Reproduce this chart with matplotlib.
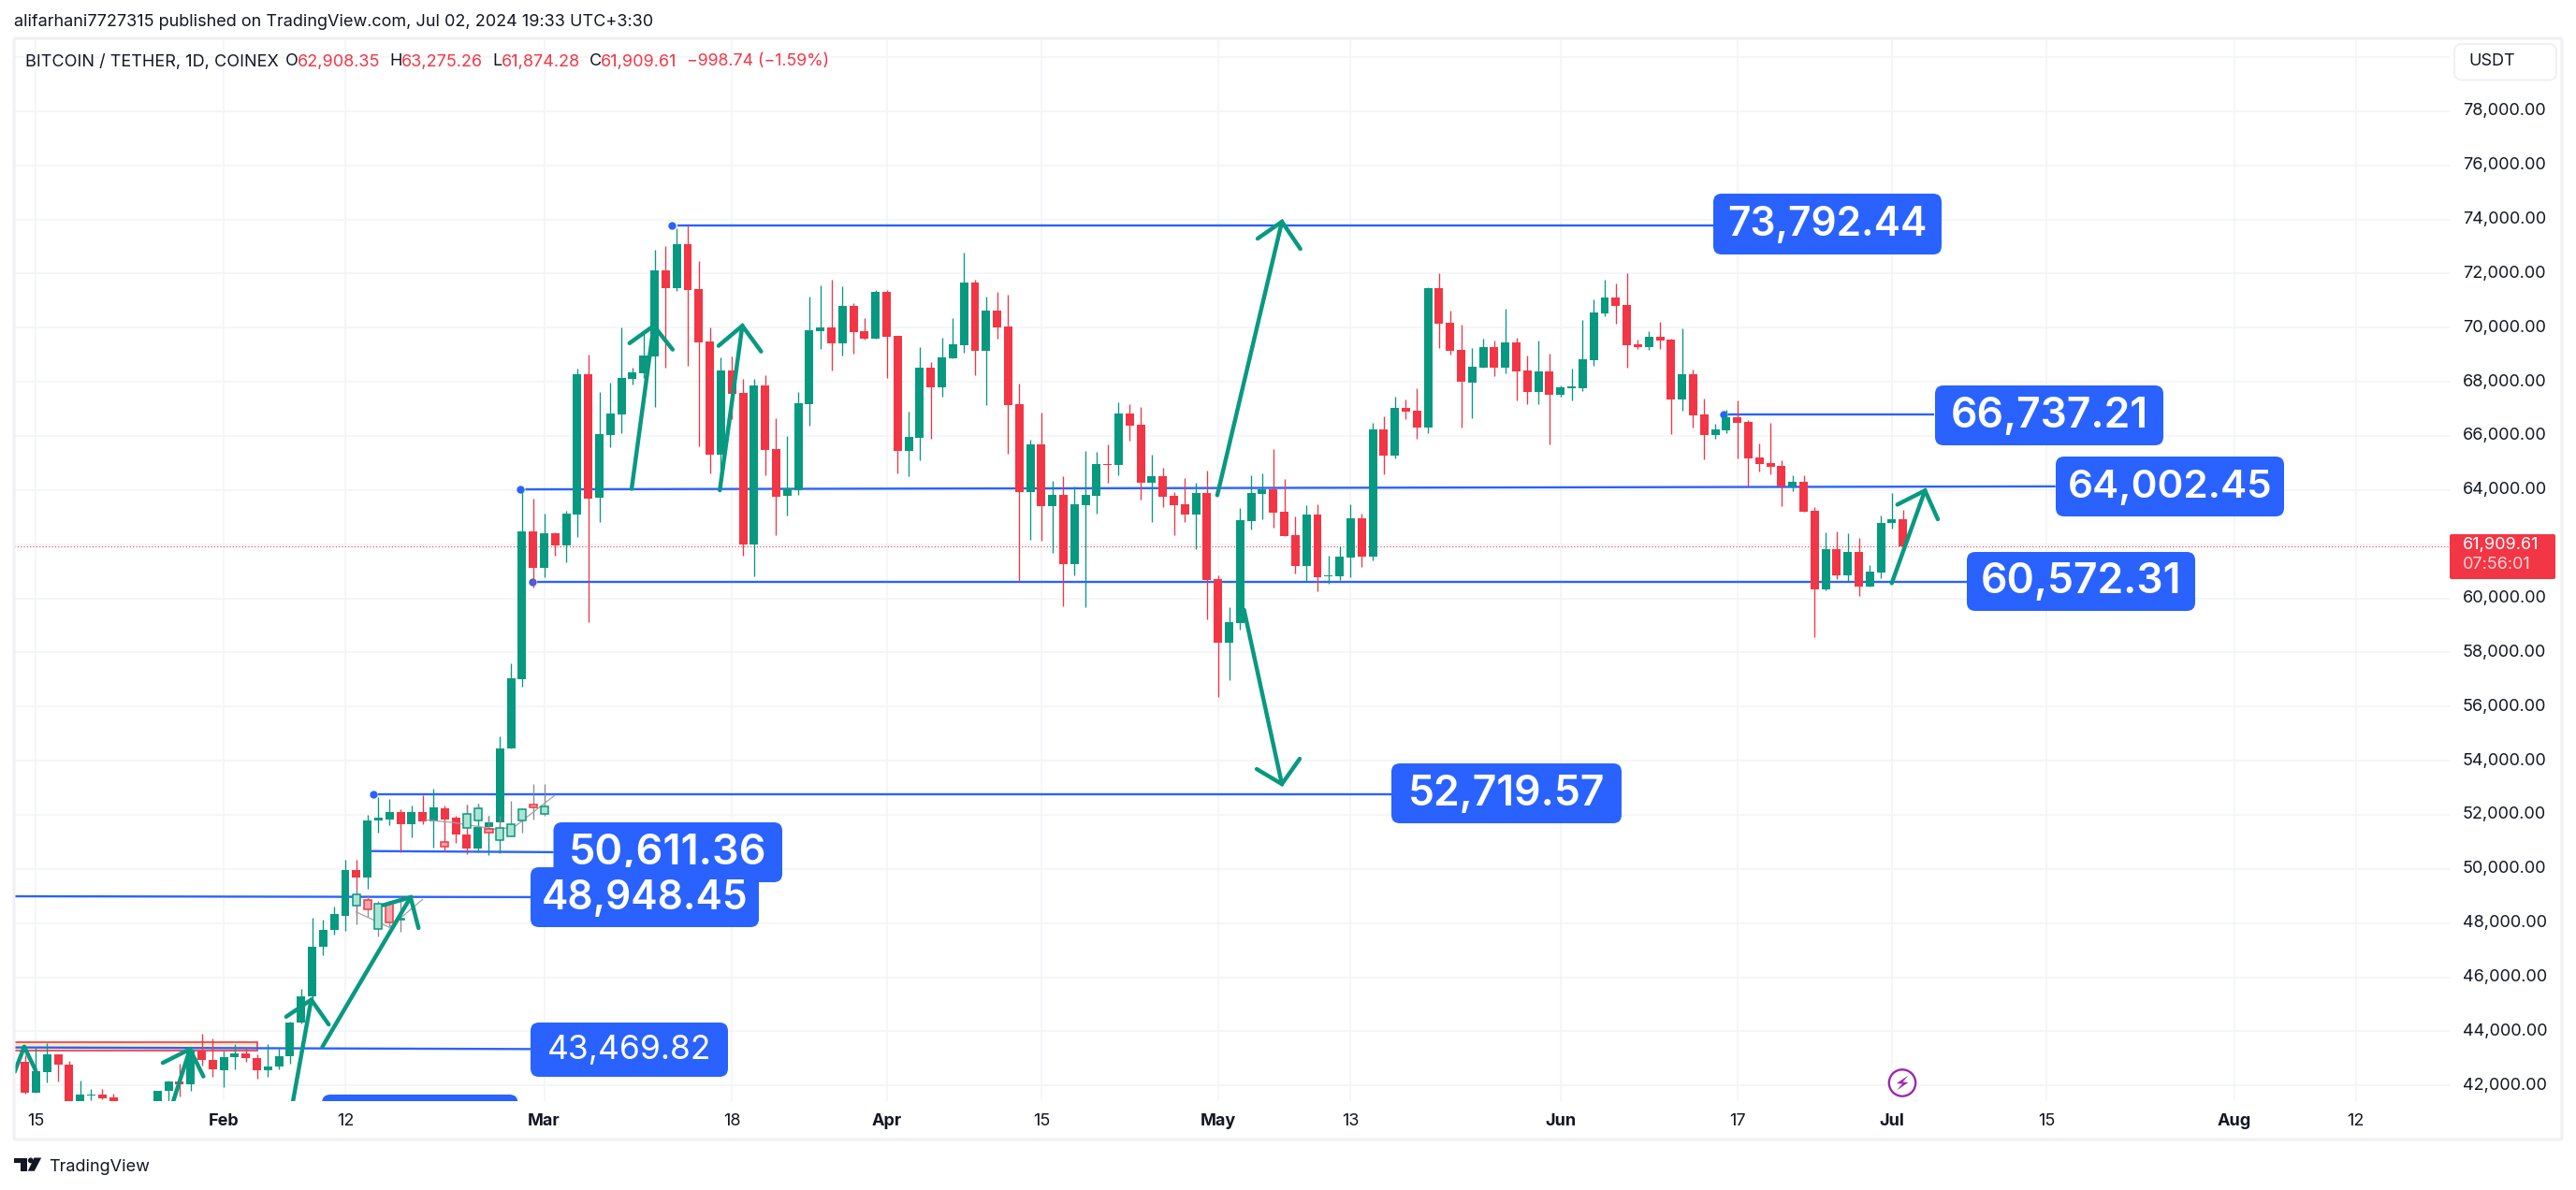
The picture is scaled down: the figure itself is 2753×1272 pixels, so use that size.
import numpy as np
import matplotlib
matplotlib.use("Agg")
import matplotlib.pyplot as plt
from matplotlib.patches import FancyBboxPatch, Rectangle, Circle, Polygon
from matplotlib.transforms import Affine2D

# ---------------- data (day 0 = Jan 15 2024) ----------------
first_day = -1  # Jan 14
opens = [42860,41725,42482,43163,42785,41280,41630,41660,41575,39500,39880,40100,39950,41790,42130,42040,43290,42950,42560,43040,43200,43010,42560,42685,43075,44310,45280,47110,47730,48280,49950,49670,51790,51840,52115,51640,52115,51740,52255,51900,51280,50755,51560,51710,54460,57020,
62475,61115,62400,61955,63090,68280,63710,66035,66800,68110,68320,68935,72120,71470,73085,71430,69490,65300,68415,67590,61980,67860,65515,63795,63995,67170,69875,70010,69415,70800,69875,69590,71320,69700,65440,65935,68525,67800,68875,69355,71665,69145,70630,70045,67170,63920,65685,63400,63820,61265,63440,63785,64960,64920,
66825,66415,64265,64515,63785,63475,63095,63885,60710,58350,59080,62850,63860,64030,63190,62330,61205,63095,60810,60810,61510,62955,61550,66245,65255,67035,66935,66295,71470,70185,69185,67985,68530,69280,68505,69455,68420,67630,68380,67530,67775,67765,68800,70530,71120,70840,69395,69280,69665,69565,67330,68280,66800,66035,66220,
66695,66520,65210,65000,64895,64115,64310,63240,60335,61820,60855,61715,60440,60955,62790,62908]
closes = [41725,42533,43163,42760,41280,41650,41680,41540,39500,39880,40100,39950,41815,42130,42040,43330,42925,42600,43050,43200,43010,42560,42710,43090,44335,45310,47135,47750,48320,49950,49670,51775,51880,52115,51640,52115,51740,52280,51840,51280,50740,51560,51725,54460,57040,
62475,61115,62400,61955,63130,68280,63685,66070,66825,68145,68355,68970,72120,71470,73085,71395,69455,65300,68415,67550,61980,67860,65475,63745,64045,67205,69910,70010,69415,70800,69835,69590,71320,69665,65440,65960,68525,67800,68900,69390,71665,69145,70630,70010,67145,63920,65685,63400,63820,61265,63475,63820,64960,64920,66820,
66380,64265,64515,63750,63440,63095,63885,60675,58350,59115,62885,63885,64030,63180,62315,61205,63095,60785,60845,61540,62955,61550,66245,65255,67035,66910,66295,71470,70160,69160,68020,68555,69280,68505,69455,68370,67630,68380,67530,67800,67840,68840,70565,71120,70800,69355,69280,69665,69530,67330,68280,66760,66035,66245,66690,
66485,65185,64965,64860,64115,64310,63205,60335,61820,60855,61715,60440,60990,62790,62908,61909]
highs = [43100,43390,43580,43163,42900,42190,41880,41880,41700,39950,40300,40400,40200,42180,42820,43400,43900,43740,43300,43520,43390,43135,43540,43365,44375,45560,48200,48140,48600,50350,50350,52015,52660,52570,52190,52340,52720,52975,52345,51965,52390,52430,51965,54900,57600,
64000,63685,63120,62440,63240,68490,69010,67625,67970,70010,68530,69765,72875,73025,73655,73792,72445,70010,68900,68935,68110,68110,68245,66650,65995,67625,71145,71565,71775,71530,70910,70355,71395,71395,69700,66900,69280,68725,69625,70355,72775,71775,71145,71320,71220,67935,65870,66860,64340,64510,64120,65440,65415,65690,67245,
67170,67070,65305,64825,63935,64440,64265,64725,60845,59670,63340,64550,64610,65515,64400,63020,63440,63465,61575,61910,63475,63115,66480,66725,67440,67345,67765,71495,72000,70615,70110,69245,69590,69515,70700,69615,68975,69530,69050,67860,68490,70285,71050,71775,71640,72000,69565,69860,70220,69590,69975,68455,67380,66455,66960,
67315,66590,65725,66485,65105,64550,64550,63375,62440,62475,62410,62235,61235,63065,63895,63275]
lows = [41700,41725,42104,42130,40700,40900,41450,41500,39400,39300,39500,39500,39800,41400,41600,41810,42720,42320,41940,42600,42885,42255,42320,42600,42820,44300,45200,46830,47590,47700,48300,49280,51330,51610,50600,51180,51650,50790,50640,50960,50540,50610,50515,50590,54460,
56730,60410,60770,61570,61325,62265,59115,62820,65590,66105,67910,68130,67070,68530,71370,68590,65625,64610,64510,66610,61575,60810,64550,62325,63055,63820,66380,69220,68415,68970,69045,69565,69590,68145,64610,64510,65095,65895,67455,68875,69085,68245,67145,69590,65340,60595,62150,62130,61675,59710,60850,59675,63130,64265,64550,
65825,63650,62820,63365,62325,62820,61820,59225,56350,56980,58845,62540,62920,62625,62315,60930,60620,60250,60550,60685,60785,61165,61400,64565,65180,66625,65910,66085,69235,69010,66295,66665,68530,68210,68320,67295,67170,67170,65690,67440,67320,67665,68590,70430,70145,68530,69220,69185,69220,66070,66935,66305,65130,65900,66085,
65185,64115,64690,64585,63420,63965,63205,58570,60300,60715,60645,60095,60440,60750,62580,61874]

# ghost ("bars pattern") candles
ghost_day   = [29,30,31,32,33,37,39,40,41,42,43,44,45,46]
ghost_open  = [48636,48863,47778,48724,48118,50994,51523,51788,51486,51070,51208,51788,52381,52028]
ghost_close = [49065,48497,48724,48018,48118,50817,52028,52242,51334,51523,51662,52204,52280,52318]
ghost_high  = [49317,49040,48812,48812,49000,50994,52390,52430,51965,51965,52532,52255,53137,53137]
ghost_low   = [47955,48245,47488,47870,47677,50817,51523,51788,51334,51070,51208,51334,51840,51965]
ghost_path_a = [(29,48409),(32,47841),(35,48875)]
ghost_path_b = [(35.3,51813),(37.77,51713),(41.74,51460),(43.33,51561),(46.96,52721)]

price_ticks = [p for p in range(42000, 80000, 2000) if p != 62000]  # 62,000 sits under the last-price tag
grid_prices = list(range(42000, 82000, 2000))
time_days   = [0,17,28,46,63,77,91,107,119,138,154,168,182,199,210]
time_labels = ['15','Feb','12','Mar','18','Apr','15','May','13','Jun','17','Jul','15','Aug','12']
month_labels = {'Feb','Mar','Apr','May','Jun','Jul','Aug'}
last_close = 61909.61

# horizontal drawn levels: (day_start, price_start, day_end, price_end, has_dot)
levels = [
    (58.05,73792,151.86,73792,True),
    (44.3,64025,182.8,64135,True),
    (45.35,60602,174.8,60602,True),
    (153.2,66784,171.8,66784,True),
    (31.0,52762,122.7,52762,True),
    (30.3,50660,46.85,50620,False),
    (-2.0,48990,44.8,48960,False),
    (-2.0,43405,44.8,43345,False),
]
# arrows: shaft start, tip, left wing, right wing
arrows = [
    ((-1.93,42500),(-1.06,43430),None,(-0.03,42559)),
    ((12.06,40944),(13.94,43340),(11.48,42835),(15.16,42334)),
    ((23.22,41314),(24.92,45169),(22.65,44539),(26.5,44253)),
    ((25.93,43430),(33.91,48954),(31.46,48664),(34.63,47817)),
    ((53.92,64044),(55.92,70069),(53.73,69426),(57.63,69191)),
    ((61.9,63992),(63.94,70069),(61.79,69330),(65.64,69119)),
    ((106.93,63809),(112.78,73914),(110.58,73291),(114.45,72911)),
    ((109.35,59574),(112.78,53137),(110.5,53690),(114.39,54070)),
    ((167.98,60559),(170.99,63982),(168.49,63463),(172.15,62920)),
]
# callouts: text, x0,y0,x1,y1 (image pixels), font size, weight
callouts = [
    ('', 344,1170,553.5,1240,30,'medium'),
    ('73,792.44',1831,207,2075,272,30.6,'semibold'),
    ('66,737.21',2068,412,2312,476,32,'semibold'),
    ('64,002.45',2197,488,2441,552,30.4,'semibold'),
    ('60,572.31',2102,590,2346,653,32,'semibold'),
    ('52,719.57',1487,816,1733,880,32,'semibold'),
    ('50,611.36',591.5,879,836,943,32.5,'semibold'),
    ('48,948.45',567,927,811,991,30.6,'semibold'),
    ('43,469.82',567,1093,778,1151,25.5,'normal'),
]

# ---------------- style ----------------
UP, DOWN = '#089981', '#F23645'
BLUE = '#2962FF'
INK = '#131722'
GRID = '#F3F4F7'
BORDER = '#F0F0F5'
FONT = 'Inter'
plt.rcParams['font.family'] = [FONT, 'DejaVu Sans']

W, H = 2753, 1272
fig = plt.figure(figsize=(W/100, H/100), dpi=100, facecolor='white')
px = Affine2D().scale(1, -1).translate(0, H)

PX_DAY0, PX_PER_DAY = 38.4, 11.807
PY_74K, PX_PER_USD = 234.5, 0.02893
L, R, T, B = 15, 2618, 41, 1177
ax = fig.add_axes([L/W, 1-B/H, (R-L)/W, (B-T)/H])
ax.set_xlim((L-PX_DAY0)/PX_PER_DAY, (R-PX_DAY0)/PX_PER_DAY)
ax.set_ylim(74000-(B-PY_74K)/PX_PER_USD, 74000-(T-PY_74K)/PX_PER_USD)
ax.axis('off')

# grid
for p in grid_prices:
    ax.axhline(p, color=GRID, lw=1.1, zorder=1)
for d in time_days:
    ax.axvline(d, color=GRID, lw=1.1, zorder=1)

# rectangle
ax.add_patch(Rectangle((-2, 43278), 22, 338, facecolor='#FFE9C6', edgecolor=DOWN, lw=1.2, zorder=1.5))

# levels
for d0, p0, d1, p1, dot in levels:
    ax.plot([d0, d1], [p0, p1], color=BLUE, lw=1.7, zorder=2, solid_capstyle='butt')
    if dot:
        ax.plot([d0-0.45], [p0], 'o', color=BLUE, ms=6, mew=0, zorder=2)

# last price line
ax.axhline(last_close, color=DOWN, lw=0.8, ls=(0, (1, 2)), zorder=2)

# candles
days = np.arange(first_day, first_day+len(opens))
o, c, h, l = map(np.array, (opens, closes, highs, lows))
col = [UP if ci >= oi else DOWN for oi, ci in zip(o, c)]
ax.vlines(days, l, h, colors=col, lw=0.95, zorder=3)
ax.bar(days, np.maximum(np.abs(c-o), 35), bottom=np.minimum(o, c), width=0.76, color=col, lw=0, zorder=3.2)

# ghost candles
gd, go, gc, gh, gl = map(np.array, (ghost_day, ghost_open, ghost_close, ghost_high, ghost_low))
ax.vlines(gd, gl, gh, colors='#8A8A8A', lw=0.95, zorder=3.4)
gup = gc >= go
ax.bar(gd, np.maximum(np.abs(gc-go), 35), bottom=np.minimum(go, gc), width=0.68,
       color=['#AEE2D3' if u else '#FBA6AC' for u in gup],
       edgecolor=[UP if u else DOWN for u in gup], lw=1.1, zorder=3.5)
for path in (ghost_path_a, ghost_path_b):
    ax.plot(*zip(*path), color='#A0A0A8', lw=0.9, zorder=3.45)

# arrows
for start, tip, left, right in arrows:
    ax.plot(*zip(start, tip), color=UP, lw=3.2, zorder=4, solid_capstyle='round')
    wings = [pt for pt in (left, tip, right) if pt is not None]
    ax.plot(*zip(*wings), color=UP, lw=3.2, zorder=4, solid_capstyle='round', solid_joinstyle='miter')

# callouts
for i, (txt, x0, y0, x1, y1, fs, wt) in enumerate(callouts):
    ax.add_patch(FancyBboxPatch((x0+9, y0+9), x1-x0-18, y1-y0-18, boxstyle='round,pad=9,rounding_size=9',
                                transform=px, facecolor=BLUE, edgecolor='none', zorder=5+i*0.1))
    if txt:
        ax.text((x0+x1)/2, (y0+y1)/2+1, txt, transform=px, color='white', fontsize=fs, fontweight=wt,
                ha='center', va='center', zorder=5.05+i*0.1)

# pixel-space chrome
def ftext(x, y, s, size=13, color=INK, ha='left', weight='normal', alpha=None):
    fig.text(x, y, s, transform=px, fontsize=size, color=color, ha=ha, va='center', fontweight=weight, alpha=alpha)

# border
fig.add_artist(FancyBboxPatch((L, T), 2738-L, 1218-T, boxstyle='round,pad=0,rounding_size=2', transform=px,
                              facecolor='none', edgecolor=BORDER, lw=2.2))

# price axis
for p in price_ticks:
    ftext(2632, PY_74K+(74000-p)*PX_PER_USD, f'{p:,.2f}')
# USDT box
fig.add_artist(FancyBboxPatch((2623, 47), 109, 38.5, boxstyle='round,pad=0,rounding_size=8', transform=px,
                              facecolor='white', edgecolor=BORDER, lw=1.4))
ftext(2638, 65.5, 'USDT')
# last price tag
fig.add_artist(FancyBboxPatch((2618, 571), 113, 48, boxstyle='round,pad=0,rounding_size=2', transform=px,
                              facecolor=DOWN, edgecolor='none'))
ftext(2632, 583, f'{last_close:,.2f}', color='white')
ftext(2632, 603, '07:56:01', color='#FFD5D8')

# time axis
for d, s in zip(time_days, time_labels):
    ftext(PX_DAY0+d*PX_PER_DAY, 1198.5, s, ha='center', weight='bold' if s in month_labels else 'normal')

# header
ftext(15, 24, 'alifarhani7727315 published on TradingView.com, Jul 02, 2024 19:33 UTC+3:30')
ftext(27, 66, 'BITCOIN / TETHER, 1D, COINEX')
for x, s in [(305, 'O'), (416, 'H'), (526, 'L'), (629.5, 'C')]:
    ftext(x, 66, s)
for x, s in [(318, '62,908.35'), (429, '63,275.26'), (536, '61,874.28'), (642, '61,909.61')]:
    ftext(x, 66, s, color=DOWN)
ftext(734, 66, '−998.74 (−1.59%)', color=DOWN, size=12.8)

# lightning icon
fig.add_artist(Circle((2033, 1157.5), 14.2, transform=px, facecolor='white', edgecolor='#9C27B0', lw=1.7))
fig.add_artist(Polygon([(2039.5,1149.5),(2027,1158),(2033,1158.5),(2027,1165.5),(2039.5,1157),(2033.5,1156.5)], transform=px,
                       facecolor='#9C27B0', edgecolor='none'))

# TradingView logo
fig.add_artist(Polygon([(15,1237.5),(29.3,1237.5),(29.3,1251.7),(21.8,1251.7),(21.8,1243.3),(15,1243.3)], transform=px, facecolor=INK, edgecolor='none'))
fig.add_artist(Circle((32.8,1240.4), 2.9, transform=px, facecolor=INK, edgecolor='none'))
fig.add_artist(Polygon([(36.5,1237.5),(44.2,1237.5),(36.8,1251.7),(29.8,1251.7)], transform=px, facecolor=INK, edgecolor='none'))
ftext(52, 1247, 'TradingView', size=13)

fig.savefig('out.png', dpi=100, facecolor='white')
